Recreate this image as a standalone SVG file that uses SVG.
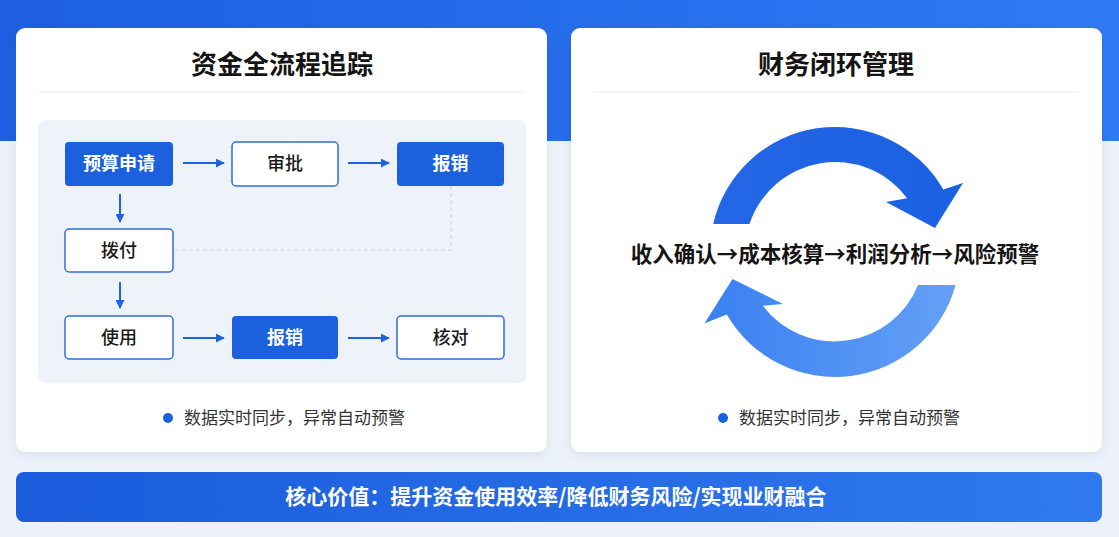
<svg xmlns="http://www.w3.org/2000/svg" width="1119" height="537" viewBox="0 0 1119 537">
<defs>
<linearGradient id="band" x1="0" y1="0" x2="1" y2="0"><stop offset="0" stop-color="#1D5FE0"/><stop offset="1" stop-color="#2F7AF5"/></linearGradient>
<linearGradient id="banner" x1="0" y1="0" x2="1" y2="0"><stop offset="0" stop-color="#1A5CDC"/><stop offset="1" stop-color="#3079EE"/></linearGradient>
<linearGradient id="arcTop" x1="0" y1="0" x2="1" y2="0"><stop offset="0" stop-color="#2467E6"/><stop offset="1" stop-color="#1A60E2"/></linearGradient>
<linearGradient id="arcBot" x1="0" y1="0" x2="1" y2="0"><stop offset="0" stop-color="#3A80F2"/><stop offset="1" stop-color="#64A0F6"/></linearGradient>
<filter id="sh" x="-5%" y="-5%" width="110%" height="115%"><feDropShadow dx="0" dy="3" stdDeviation="5" flood-color="#3A5A90" flood-opacity="0.12"/></filter>
<marker id="ah" viewBox="0 0 10 10" refX="9" refY="5" markerWidth="9" markerHeight="9" markerUnits="userSpaceOnUse" orient="auto"><path d="M0,0 L10,5 L0,10 Z" fill="#1D63E0"/></marker>
<style>
.card{fill:#FFFFFF;filter:url(#sh)}
.title{font-family:"Noto Sans CJK SC",sans-serif;font-size:26px;font-weight:bold;fill:#141414;text-anchor:middle}
.div{stroke:#E6EAF0;stroke-width:1}
.nf{fill:#1B60DD}
.no{fill:#FFFFFF;stroke:#2F6EDD;stroke-width:1.5}
.tf{font-family:"Noto Sans CJK SC",sans-serif;font-size:18px;font-weight:bold;fill:#FFFFFF;text-anchor:middle}
.to{font-family:"Noto Sans CJK SC",sans-serif;font-size:18px;font-weight:500;fill:#1A1A1A;text-anchor:middle}
.conn{stroke:#1D63E0;stroke-width:2;fill:none}
.dash{stroke:#C9D6EA;stroke-width:1.2;fill:none;stroke-dasharray:4 3}
.note{font-family:"Noto Sans CJK SC",sans-serif;font-size:17px;fill:#333333}
.dot{fill:#1B60DD}
</style>
</defs>
<rect x="0" y="0" width="1119" height="537" fill="#EDF2FA"/>
<rect x="0" y="0" width="1119" height="141" fill="url(#band)"/>

<g id="card-left">
<rect class="card" x="16" y="28" width="531" height="424" rx="9"/>
<text class="title" x="282" y="74">资金全流程追踪</text>
<line class="div" x1="39" y1="92" x2="525" y2="92"/>
<rect x="38" y="120" width="488" height="263" rx="7" fill="#EEF2F9"/>
</g>

<g id="connectors">
<path class="dash" d="M451,186 V250 H173"/>
<line class="conn" x1="183" y1="163" x2="224" y2="163" marker-end="url(#ah)"/>
<line class="conn" x1="348" y1="163" x2="389" y2="163" marker-end="url(#ah)"/>
<line class="conn" x1="120" y1="194" x2="120" y2="222" marker-end="url(#ah)"/>
<line class="conn" x1="120" y1="282" x2="120" y2="308" marker-end="url(#ah)"/>
<line class="conn" x1="183" y1="338" x2="224" y2="338" marker-end="url(#ah)"/>
<line class="conn" x1="348" y1="338" x2="389" y2="338" marker-end="url(#ah)"/>
</g>

<g id="node-budget"><rect class="nf" x="65" y="142" width="108" height="44" rx="4"/><text class="tf" x="119" y="170">预算申请</text></g>
<g id="node-approve"><rect class="no" x="232" y="142" width="106" height="44" rx="4"/><text class="to" x="285" y="170">审批</text></g>
<g id="node-reimb1"><rect class="nf" x="397" y="142" width="107" height="44" rx="4"/><text class="tf" x="450.5" y="170">报销</text></g>
<g id="node-allocate"><rect class="no" x="65" y="229" width="108" height="43" rx="4"/><text class="to" x="119" y="257">拨付</text></g>
<g id="node-use"><rect class="no" x="65" y="316" width="108" height="43" rx="4"/><text class="to" x="119" y="344">使用</text></g>
<g id="node-reimb2"><rect class="nf" x="232" y="316" width="106" height="43" rx="4"/><text class="tf" x="285" y="344">报销</text></g>
<g id="node-check"><rect class="no" x="397" y="316" width="107" height="43" rx="4"/><text class="to" x="450.5" y="344">核对</text></g>

<g id="note-left"><circle class="dot" cx="168" cy="418" r="5"/><text class="note" x="184" y="424">数据实时同步，异常自动预警</text></g>

<g id="card-right">
<rect class="card" x="571" y="28" width="531" height="424" rx="9"/>
<text class="title" x="836" y="74">财务闭环管理</text>
<line class="div" x1="593" y1="92" x2="1079" y2="92"/>
</g>

<g id="cycle">
<path fill="url(#arcTop)" d="M713.2,224 A125,125 0 0 1 943.3,189.5 L963,183 L935,228 L886,202 L907.2,198.2 A90,90 0 0 0 749.5,224 Z"/>
<path fill="url(#arcBot)" d="M955.6,285 A125,125 0 0 1 726.8,314.5 L704.6,323.3 L732.5,279 L783,304 L762.8,305.8 A90,90 0 0 0 918,285 Z"/>
<text x="835" y="262" font-family="Noto Sans CJK SC, sans-serif" font-size="21.5" font-weight="bold" fill="#141414" text-anchor="middle">收入确认→成本核算→利润分析→风险预警</text>
</g>

<g id="note-right"><circle class="dot" cx="723" cy="418" r="5"/><text class="note" x="739" y="424">数据实时同步，异常自动预警</text></g>

<g id="banner">
<rect x="16" y="472" width="1086" height="50" rx="8" fill="url(#banner)"/>
<text x="556" y="504" font-family="Noto Sans CJK SC, sans-serif" font-size="21" font-weight="bold" fill="#FFFFFF" text-anchor="middle">核心价值：提升资金使用效率/降低财务风险/实现业财融合</text>
</g>
</svg>
